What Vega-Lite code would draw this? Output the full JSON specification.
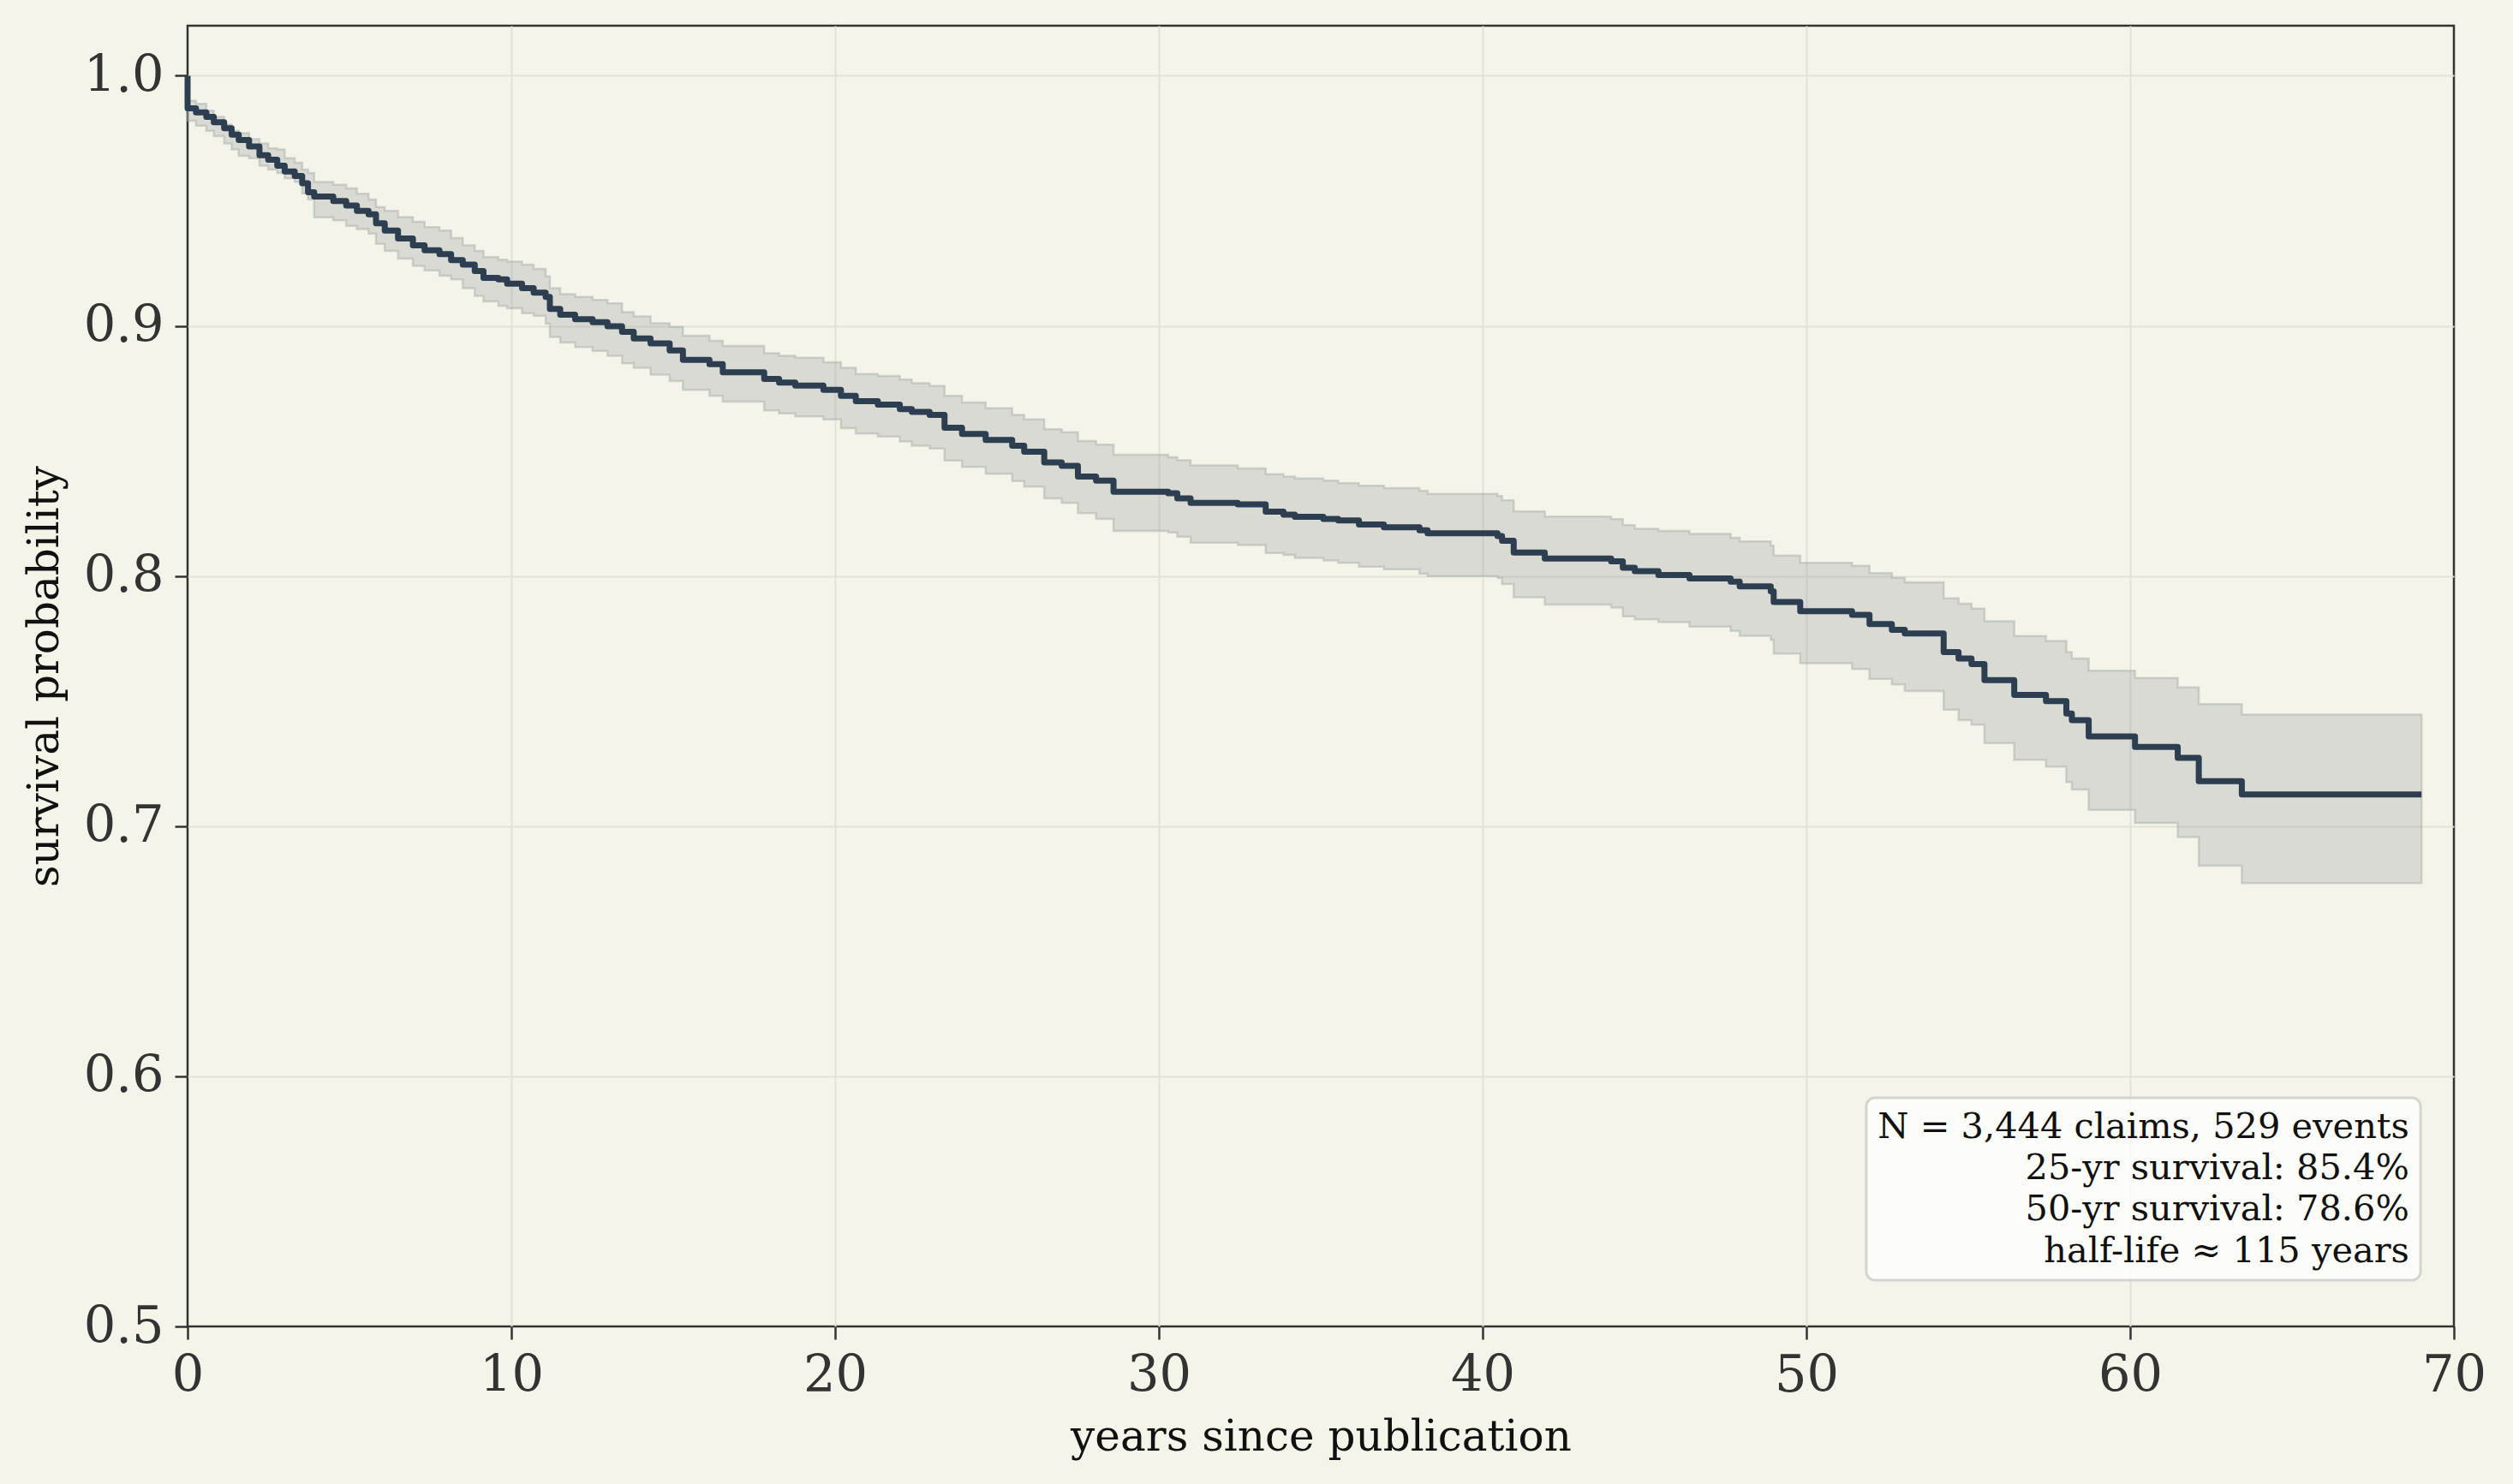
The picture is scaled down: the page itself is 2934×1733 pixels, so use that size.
{
  "$schema": "https://vega.github.io/schema/vega-lite/v6.json",
  "description": "Kaplan-Meier survival of claims since publication",
  "width": 2646,
  "height": 1519,
  "autosize": {"type": "none"},
  "padding": {"left": 219, "top": 30, "right": 69, "bottom": 184},
  "datasets": {
    "km": [
      {"i": 0, "t": 0, "s": 1.0, "lo": 0.982, "hi": 0.99},
      {"i": 1, "t": 0, "s": 0.987, "lo": 0.982, "hi": 0.99},
      {"i": 2, "t": 0.26, "s": 0.9853, "lo": 0.98, "hi": 0.9888},
      {"i": 3, "t": 0.58, "s": 0.9835, "lo": 0.978, "hi": 0.986},
      {"i": 4, "t": 0.81, "s": 0.9814, "lo": 0.9758, "hi": 0.9835},
      {"i": 5, "t": 1.13, "s": 0.979, "lo": 0.9729, "hi": 0.9805},
      {"i": 6, "t": 1.36, "s": 0.9764, "lo": 0.9705, "hi": 0.978},
      {"i": 7, "t": 1.58, "s": 0.9743, "lo": 0.968, "hi": 0.977},
      {"i": 8, "t": 1.9, "s": 0.9717, "lo": 0.967, "hi": 0.9746},
      {"i": 9, "t": 2.22, "s": 0.9682, "lo": 0.964, "hi": 0.9729},
      {"i": 10, "t": 2.49, "s": 0.9664, "lo": 0.9625, "hi": 0.971},
      {"i": 11, "t": 2.77, "s": 0.964, "lo": 0.9611, "hi": 0.9705},
      {"i": 12, "t": 3.0, "s": 0.9617, "lo": 0.959, "hi": 0.967},
      {"i": 13, "t": 3.31, "s": 0.9599, "lo": 0.9575, "hi": 0.9652},
      {"i": 14, "t": 3.54, "s": 0.957, "lo": 0.953, "hi": 0.9625},
      {"i": 15, "t": 3.72, "s": 0.9534, "lo": 0.9505, "hi": 0.9611},
      {"i": 16, "t": 3.91, "s": 0.9517, "lo": 0.9434, "hi": 0.9575},
      {"i": 17, "t": 4.5, "s": 0.9499, "lo": 0.9422, "hi": 0.9564},
      {"i": 18, "t": 4.9, "s": 0.9481, "lo": 0.94, "hi": 0.955},
      {"i": 19, "t": 5.23, "s": 0.946, "lo": 0.9387, "hi": 0.9528},
      {"i": 20, "t": 5.59, "s": 0.9446, "lo": 0.9369, "hi": 0.9505},
      {"i": 21, "t": 5.82, "s": 0.941, "lo": 0.9328, "hi": 0.9475},
      {"i": 22, "t": 6.09, "s": 0.9381, "lo": 0.93, "hi": 0.946},
      {"i": 23, "t": 6.5, "s": 0.9349, "lo": 0.9269, "hi": 0.9435},
      {"i": 24, "t": 6.96, "s": 0.9322, "lo": 0.924, "hi": 0.9416},
      {"i": 25, "t": 7.32, "s": 0.9302, "lo": 0.9222, "hi": 0.9395},
      {"i": 26, "t": 7.78, "s": 0.9287, "lo": 0.92, "hi": 0.9381},
      {"i": 27, "t": 8.14, "s": 0.9263, "lo": 0.9186, "hi": 0.9351},
      {"i": 28, "t": 8.5, "s": 0.9245, "lo": 0.9151, "hi": 0.9322},
      {"i": 29, "t": 8.87, "s": 0.9219, "lo": 0.912, "hi": 0.93},
      {"i": 30, "t": 9.14, "s": 0.9192, "lo": 0.9098, "hi": 0.9275},
      {"i": 31, "t": 9.6, "s": 0.9186, "lo": 0.908, "hi": 0.9265},
      {"i": 32, "t": 9.87, "s": 0.9169, "lo": 0.907, "hi": 0.9257},
      {"i": 33, "t": 10.33, "s": 0.9151, "lo": 0.9051, "hi": 0.9245},
      {"i": 34, "t": 10.69, "s": 0.9133, "lo": 0.904, "hi": 0.9228},
      {"i": 35, "t": 11.06, "s": 0.9116, "lo": 0.9009, "hi": 0.9198},
      {"i": 36, "t": 11.19, "s": 0.9068, "lo": 0.8956, "hi": 0.9151},
      {"i": 37, "t": 11.51, "s": 0.9045, "lo": 0.8933, "hi": 0.9127},
      {"i": 38, "t": 11.97, "s": 0.9027, "lo": 0.8915, "hi": 0.9116},
      {"i": 39, "t": 12.51, "s": 0.9015, "lo": 0.89, "hi": 0.9104},
      {"i": 40, "t": 12.97, "s": 0.8998, "lo": 0.888, "hi": 0.909},
      {"i": 41, "t": 13.42, "s": 0.8976, "lo": 0.885, "hi": 0.9055},
      {"i": 42, "t": 13.78, "s": 0.895, "lo": 0.8832, "hi": 0.9038},
      {"i": 43, "t": 14.3, "s": 0.893, "lo": 0.8805, "hi": 0.901},
      {"i": 44, "t": 14.89, "s": 0.8902, "lo": 0.8779, "hi": 0.8996},
      {"i": 45, "t": 15.3, "s": 0.8864, "lo": 0.8744, "hi": 0.8961},
      {"i": 46, "t": 16.12, "s": 0.8847, "lo": 0.872, "hi": 0.894},
      {"i": 47, "t": 16.53, "s": 0.8814, "lo": 0.8697, "hi": 0.892},
      {"i": 48, "t": 17.81, "s": 0.8788, "lo": 0.8662, "hi": 0.8891},
      {"i": 49, "t": 18.27, "s": 0.8773, "lo": 0.865, "hi": 0.888},
      {"i": 50, "t": 18.77, "s": 0.8761, "lo": 0.8638, "hi": 0.8873},
      {"i": 51, "t": 19.64, "s": 0.8744, "lo": 0.8626, "hi": 0.8855},
      {"i": 52, "t": 20.18, "s": 0.872, "lo": 0.8591, "hi": 0.8832},
      {"i": 53, "t": 20.64, "s": 0.8699, "lo": 0.857, "hi": 0.8808},
      {"i": 54, "t": 21.32, "s": 0.8685, "lo": 0.8558, "hi": 0.88},
      {"i": 55, "t": 22.0, "s": 0.8667, "lo": 0.8538, "hi": 0.8785},
      {"i": 56, "t": 22.37, "s": 0.8656, "lo": 0.8521, "hi": 0.8771},
      {"i": 57, "t": 22.92, "s": 0.8644, "lo": 0.851, "hi": 0.876},
      {"i": 58, "t": 23.38, "s": 0.8593, "lo": 0.8462, "hi": 0.872},
      {"i": 59, "t": 23.92, "s": 0.8568, "lo": 0.8436, "hi": 0.8694},
      {"i": 60, "t": 24.65, "s": 0.8544, "lo": 0.8409, "hi": 0.8671},
      {"i": 61, "t": 25.47, "s": 0.8521, "lo": 0.838, "hi": 0.8644},
      {"i": 62, "t": 25.84, "s": 0.8497, "lo": 0.8357, "hi": 0.8626},
      {"i": 63, "t": 26.46, "s": 0.8454, "lo": 0.831, "hi": 0.8587},
      {"i": 64, "t": 27.0, "s": 0.844, "lo": 0.8292, "hi": 0.8575},
      {"i": 65, "t": 27.5, "s": 0.8398, "lo": 0.8251, "hi": 0.854},
      {"i": 66, "t": 28.06, "s": 0.8381, "lo": 0.8228, "hi": 0.8525},
      {"i": 67, "t": 28.6, "s": 0.8337, "lo": 0.818, "hi": 0.8485},
      {"i": 68, "t": 30.29, "s": 0.8331, "lo": 0.8174, "hi": 0.8475},
      {"i": 69, "t": 30.57, "s": 0.831, "lo": 0.8157, "hi": 0.8463},
      {"i": 70, "t": 30.98, "s": 0.8292, "lo": 0.8133, "hi": 0.8442},
      {"i": 71, "t": 32.44, "s": 0.8286, "lo": 0.8124, "hi": 0.843},
      {"i": 72, "t": 33.3, "s": 0.8257, "lo": 0.8092, "hi": 0.8407},
      {"i": 73, "t": 33.85, "s": 0.8245, "lo": 0.8084, "hi": 0.8398},
      {"i": 74, "t": 34.2, "s": 0.8237, "lo": 0.8072, "hi": 0.839},
      {"i": 75, "t": 35.08, "s": 0.8228, "lo": 0.8062, "hi": 0.8381},
      {"i": 76, "t": 35.54, "s": 0.8222, "lo": 0.8053, "hi": 0.8371},
      {"i": 77, "t": 36.18, "s": 0.8206, "lo": 0.8037, "hi": 0.8361},
      {"i": 78, "t": 36.95, "s": 0.8195, "lo": 0.8027, "hi": 0.8351},
      {"i": 79, "t": 38.05, "s": 0.8183, "lo": 0.8009, "hi": 0.834},
      {"i": 80, "t": 38.3, "s": 0.8171, "lo": 0.8, "hi": 0.8328},
      {"i": 81, "t": 40.46, "s": 0.816, "lo": 0.7992, "hi": 0.832},
      {"i": 82, "t": 40.6, "s": 0.8141, "lo": 0.7968, "hi": 0.8303},
      {"i": 83, "t": 40.96, "s": 0.8094, "lo": 0.7915, "hi": 0.8258},
      {"i": 84, "t": 41.92, "s": 0.807, "lo": 0.7886, "hi": 0.8238},
      {"i": 85, "t": 43.97, "s": 0.8059, "lo": 0.7874, "hi": 0.8227},
      {"i": 86, "t": 44.33, "s": 0.8033, "lo": 0.7839, "hi": 0.8203},
      {"i": 87, "t": 44.7, "s": 0.8019, "lo": 0.7827, "hi": 0.8189},
      {"i": 88, "t": 45.43, "s": 0.8004, "lo": 0.7816, "hi": 0.818},
      {"i": 89, "t": 46.39, "s": 0.799, "lo": 0.7798, "hi": 0.8168},
      {"i": 90, "t": 47.66, "s": 0.7977, "lo": 0.7781, "hi": 0.8153},
      {"i": 91, "t": 47.94, "s": 0.7959, "lo": 0.7761, "hi": 0.8138},
      {"i": 92, "t": 48.9, "s": 0.7939, "lo": 0.7745, "hi": 0.8121},
      {"i": 93, "t": 48.99, "s": 0.7896, "lo": 0.769, "hi": 0.8082},
      {"i": 94, "t": 49.81, "s": 0.7859, "lo": 0.7651, "hi": 0.8053},
      {"i": 95, "t": 51.41, "s": 0.7845, "lo": 0.7628, "hi": 0.8041},
      {"i": 96, "t": 51.95, "s": 0.7808, "lo": 0.7589, "hi": 0.8012},
      {"i": 97, "t": 52.64, "s": 0.7785, "lo": 0.7567, "hi": 0.7993},
      {"i": 98, "t": 53.04, "s": 0.777, "lo": 0.754, "hi": 0.7975},
      {"i": 99, "t": 54.24, "s": 0.7696, "lo": 0.7466, "hi": 0.7911},
      {"i": 100, "t": 54.7, "s": 0.767, "lo": 0.7424, "hi": 0.7889},
      {"i": 101, "t": 55.1, "s": 0.7648, "lo": 0.7406, "hi": 0.787},
      {"i": 102, "t": 55.5, "s": 0.7584, "lo": 0.7332, "hi": 0.7819},
      {"i": 103, "t": 56.42, "s": 0.7525, "lo": 0.7265, "hi": 0.776},
      {"i": 104, "t": 57.4, "s": 0.75, "lo": 0.7238, "hi": 0.774},
      {"i": 105, "t": 58.03, "s": 0.745, "lo": 0.7176, "hi": 0.7696},
      {"i": 106, "t": 58.2, "s": 0.7424, "lo": 0.7146, "hi": 0.767},
      {"i": 107, "t": 58.72, "s": 0.7359, "lo": 0.7065, "hi": 0.7621},
      {"i": 108, "t": 60.15, "s": 0.7317, "lo": 0.7013, "hi": 0.7592},
      {"i": 109, "t": 61.47, "s": 0.7273, "lo": 0.6956, "hi": 0.7555},
      {"i": 110, "t": 62.12, "s": 0.718, "lo": 0.6842, "hi": 0.7488},
      {"i": 111, "t": 63.45, "s": 0.7127, "lo": 0.6772, "hi": 0.7446},
      {"i": 112, "t": 69.0, "s": 0.7127, "lo": 0.6772, "hi": 0.7446}
    ],
    "box": [
      {"t": 51.85, "t2": 68.97, "s": 0.5185, "s2": 0.5914}
    ],
    "notes": [
      {"t": 68.62, "s": 0.5753, "label": "N = 3,444 claims, 529 events"},
      {"t": 68.62, "s": 0.5589, "label": "25-yr survival: 85.4%"},
      {"t": 68.62, "s": 0.5424, "label": "50-yr survival: 78.6%"},
      {"t": 68.62, "s": 0.5257, "label": "half-life ≈ 115 years"}
    ]
  },
  "layer": [
    {
      "data": {"name": "km"},
      "mark": {
        "type": "area",
        "interpolate": "step-after",
        "fill": "#858a93",
        "fillOpacity": 0.25,
        "stroke": "#a3aaa8",
        "strokeOpacity": 0.45,
        "strokeWidth": 2.5
      },
      "encoding": {
        "x": {
          "field": "t",
          "type": "quantitative",
          "title": "years since publication",
          "scale": {"domain": [0, 70], "nice": false},
          "axis": {
            "values": [0, 10, 20, 30, 40, 50, 60, 70],
            "format": "d",
            "titlePadding": 17,
            "gridColor": {"condition": {"test": "datum.value === 0 || datum.value === 70", "value": "transparent"}, "value": "#e2e2d8"}
          }
        },
        "y": {
          "field": "lo",
          "type": "quantitative",
          "title": "survival probability",
          "scale": {"domain": [0.5, 1.02], "nice": false, "zero": false},
          "axis": {
            "values": [0.5, 0.6, 0.7, 0.8, 0.9, 1.0],
            "format": ".1f",
            "titlePadding": 20,
            "gridColor": {"condition": {"test": "datum.value === 0.5", "value": "transparent"}, "value": "#e2e2d8"}
          }
        },
        "y2": {"field": "hi"}
      }
    },
    {
      "data": {"name": "km"},
      "mark": {
        "type": "line",
        "interpolate": "step-after",
        "color": "#2c3e50",
        "strokeWidth": 7,
        "strokeJoin": "round"
      },
      "encoding": {
        "x": {"field": "t", "type": "quantitative", "title": "years since publication"},
        "y": {"field": "s", "type": "quantitative", "title": "survival probability"},
        "order": {"field": "i", "type": "quantitative"}
      }
    },
    {
      "data": {"name": "box"},
      "mark": {
        "type": "rect",
        "fill": "#fdfdfa",
        "fillOpacity": 0.85,
        "stroke": "#d4d4d0",
        "strokeWidth": 3,
        "cornerRadius": 10
      },
      "encoding": {
        "x": {"field": "t", "type": "quantitative", "title": "years since publication"},
        "x2": {"field": "t2"},
        "y": {"field": "s", "type": "quantitative", "title": "survival probability"},
        "y2": {"field": "s2"}
      }
    },
    {
      "data": {"name": "notes"},
      "mark": {
        "type": "text",
        "align": "right",
        "baseline": "alphabetic",
        "font": "DejaVu Serif",
        "fontSize": 41.5,
        "color": "#111111"
      },
      "encoding": {
        "x": {"field": "t", "type": "quantitative", "title": "years since publication"},
        "y": {"field": "s", "type": "quantitative", "title": "survival probability"},
        "text": {"field": "label"}
      }
    }
  ],
  "config": {
    "background": "#f4f4e9",
    "view": {"stroke": "#333333", "strokeWidth": 2.5, "fill": "#f4f4e9"},
    "axis": {
      "domain": false,
      "labelFlush": false,
      "labelFont": "DejaVu Serif",
      "labelFontSize": 59,
      "labelColor": "#333333",
      "labelPadding": 13,
      "titleFont": "DejaVu Serif",
      "titleFontSize": 50,
      "titleFontWeight": "normal",
      "titleColor": "#111111",
      "gridWidth": 2,
      "tickColor": "#333333",
      "tickWidth": 2.5,
      "tickSize": 15
    }
  }
}
